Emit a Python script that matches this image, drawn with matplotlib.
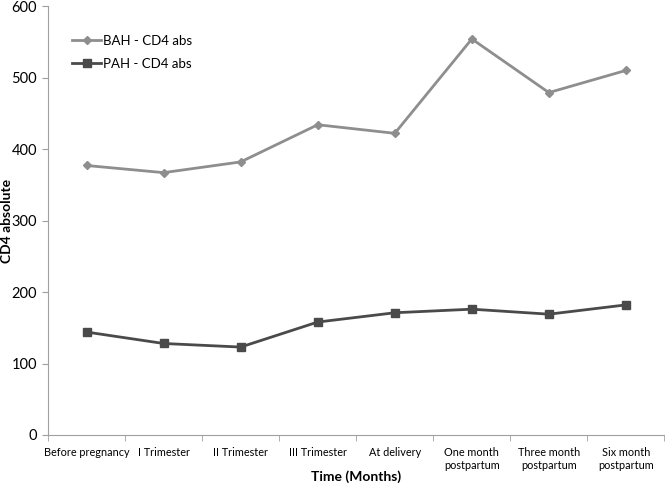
import matplotlib
matplotlib.use("Agg")
import matplotlib.pyplot as plt

categories = ["Before pregnancy", "I Trimester", "II Trimester", "III Trimester",
              "At delivery", "One month\npostpartum", "Three month\npostpartum",
              "Six month\npostpartum"]
bah = [377, 367, 382, 434, 422, 554, 479, 510]
pah = [144, 128, 123, 158, 171, 176, 169, 182]
yticks = [0, 100, 200, 300, 400, 500, 600]

plt.rcParams['font.family'] = ['Lato', 'DejaVu Sans']

fig = plt.figure(figsize=(6.65, 4.83), dpi=100)
ax = fig.add_axes([0.0722, 0.0994, 0.927, 0.888])

x = list(range(len(categories)))
ax.plot(x, bah, color='#8e8e8e', lw=2, marker='D', ms=4.5, label='BAH - CD4 abs')
ax.plot(x, pah, color='#4a4a4a', lw=2, marker='s', ms=6, label='PAH - CD4 abs')

ax.set_xlim(-0.5, len(categories) - 0.5)
ax.set_ylim(0, 600)
ax.set_yticks(yticks)
ax.set_yticklabels([str(v) for v in yticks], fontsize=10.5)
ax.set_xticks(x)
ax.set_xticklabels(categories, fontsize=7.8, va='top')
ax.set_xticks([i + 0.5 for i in range(-1, len(categories))], minor=True)
ax.tick_params(axis='x', which='major', length=0, pad=9)
ax.tick_params(axis='x', which='minor', length=4, color='#a0a0a0', direction='out')
ax.tick_params(axis='y', length=4, color='#a0a0a0', direction='out', pad=4)

for s in ['top', 'right']:
    ax.spines[s].set_visible(False)
for s in ['left', 'bottom']:
    ax.spines[s].set_color('#a0a0a0')

ax.set_xlabel('Time (Months)', fontsize=10, fontweight='bold', va='center')
ax.xaxis.set_label_coords(0.5, -0.098)
ax.set_ylabel('CD4 absolute', fontsize=10, fontweight='bold', va='center')
ax.yaxis.set_label_coords(-0.066, 0.5)

ax.legend(loc='upper left', bbox_to_anchor=(0.02, 0.96), frameon=False,
          fontsize=9.5, handlelength=2.2, handletextpad=0.1, labelspacing=0.8)

fig.savefig('out.png', dpi=100)
